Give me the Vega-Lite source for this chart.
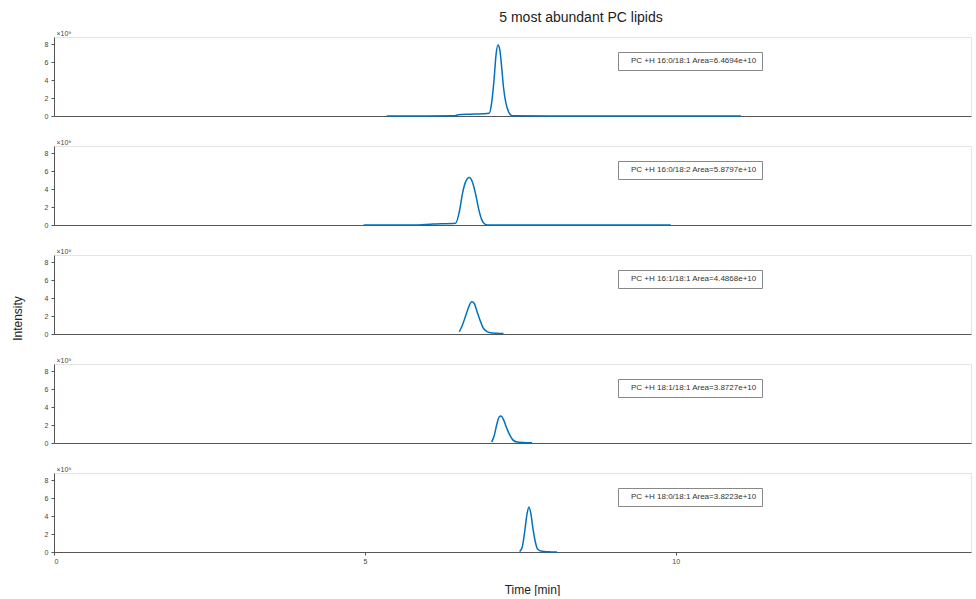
{
  "$schema": "https://vega.github.io/schema/vega-lite/v6.json",
  "padding": {"left": 10, "top": 10, "right": 0, "bottom": 0},
  "background": "white",
  "title": {"text": "5 most abundant PC lipids", "fontSize": 14, "fontWeight": "normal", "font": "Liberation Sans", "color": "#222222", "anchor": "middle", "dx": 90},
  "bounds": "flush",
  "spacing": 30,
  "resolve": {"scale": {"color": "independent"}, "legend": {"color": "independent"}},
  "config": {
    "font": "Liberation Sans",
    "view": {"stroke": "#e4e4e4", "strokeWidth": 1},
    "axis": {"domainColor": "#555555", "labelColor": "#444444", "labelFontSize": 7, "tickColor": "#555555", "grid": false},
    "legend": {"orient": "none", "legendX": 564, "legendY": 15, "title": null, "labelFontSize": 8, "labelColor": "#333333", "symbolSize": 0, "symbolStrokeWidth": 0, "symbolOpacity": 0, "labelOffset": 0, "strokeColor": "#888888", "fillColor": "white", "padding": 5, "columnPadding": 0},
    "line": {"strokeWidth": 1.5, "interpolate": "monotone"}
  },
  "datasets": {
    "chrom": [
      {"panel": 1, "lipid": "PC +H 16:0/18:1 Area=6.4694e+10", "time": 5.35, "intensity": 0},
      {"panel": 1, "lipid": "PC +H 16:0/18:1 Area=6.4694e+10", "time": 6.45, "intensity": 0.02},
      {"panel": 1, "lipid": "PC +H 16:0/18:1 Area=6.4694e+10", "time": 6.5, "intensity": 0.15},
      {"panel": 1, "lipid": "PC +H 16:0/18:1 Area=6.4694e+10", "time": 6.7, "intensity": 0.2},
      {"panel": 1, "lipid": "PC +H 16:0/18:1 Area=6.4694e+10", "time": 6.9, "intensity": 0.25},
      {"panel": 1, "lipid": "PC +H 16:0/18:1 Area=6.4694e+10", "time": 7.0, "intensity": 0.3},
      {"panel": 1, "lipid": "PC +H 16:0/18:1 Area=6.4694e+10", "time": 7.04, "intensity": 1.5},
      {"panel": 1, "lipid": "PC +H 16:0/18:1 Area=6.4694e+10", "time": 7.08, "intensity": 4.2},
      {"panel": 1, "lipid": "PC +H 16:0/18:1 Area=6.4694e+10", "time": 7.11, "intensity": 6.8},
      {"panel": 1, "lipid": "PC +H 16:0/18:1 Area=6.4694e+10", "time": 7.14, "intensity": 7.9},
      {"panel": 1, "lipid": "PC +H 16:0/18:1 Area=6.4694e+10", "time": 7.17, "intensity": 7.4},
      {"panel": 1, "lipid": "PC +H 16:0/18:1 Area=6.4694e+10", "time": 7.2, "intensity": 5.5},
      {"panel": 1, "lipid": "PC +H 16:0/18:1 Area=6.4694e+10", "time": 7.23, "intensity": 3.2},
      {"panel": 1, "lipid": "PC +H 16:0/18:1 Area=6.4694e+10", "time": 7.27, "intensity": 1.4},
      {"panel": 1, "lipid": "PC +H 16:0/18:1 Area=6.4694e+10", "time": 7.31, "intensity": 0.5},
      {"panel": 1, "lipid": "PC +H 16:0/18:1 Area=6.4694e+10", "time": 7.35, "intensity": 0.1},
      {"panel": 1, "lipid": "PC +H 16:0/18:1 Area=6.4694e+10", "time": 7.4, "intensity": 0.02},
      {"panel": 1, "lipid": "PC +H 16:0/18:1 Area=6.4694e+10", "time": 8.0, "intensity": 0},
      {"panel": 1, "lipid": "PC +H 16:0/18:1 Area=6.4694e+10", "time": 11.05, "intensity": 0},
      {"panel": 2, "lipid": "PC +H 16:0/18:2 Area=5.8797e+10", "time": 4.98, "intensity": 0},
      {"panel": 2, "lipid": "PC +H 16:0/18:2 Area=5.8797e+10", "time": 5.76, "intensity": 0},
      {"panel": 2, "lipid": "PC +H 16:0/18:2 Area=5.8797e+10", "time": 6.1, "intensity": 0.1},
      {"panel": 2, "lipid": "PC +H 16:0/18:2 Area=5.8797e+10", "time": 6.46, "intensity": 0.2},
      {"panel": 2, "lipid": "PC +H 16:0/18:2 Area=5.8797e+10", "time": 6.52, "intensity": 1.5},
      {"panel": 2, "lipid": "PC +H 16:0/18:2 Area=5.8797e+10", "time": 6.57, "intensity": 3.5},
      {"panel": 2, "lipid": "PC +H 16:0/18:2 Area=5.8797e+10", "time": 6.62, "intensity": 4.8},
      {"panel": 2, "lipid": "PC +H 16:0/18:2 Area=5.8797e+10", "time": 6.68, "intensity": 5.3},
      {"panel": 2, "lipid": "PC +H 16:0/18:2 Area=5.8797e+10", "time": 6.73, "intensity": 4.8},
      {"panel": 2, "lipid": "PC +H 16:0/18:2 Area=5.8797e+10", "time": 6.78, "intensity": 3.5},
      {"panel": 2, "lipid": "PC +H 16:0/18:2 Area=5.8797e+10", "time": 6.83, "intensity": 1.8},
      {"panel": 2, "lipid": "PC +H 16:0/18:2 Area=5.8797e+10", "time": 6.88, "intensity": 0.6},
      {"panel": 2, "lipid": "PC +H 16:0/18:2 Area=5.8797e+10", "time": 6.93, "intensity": 0.1},
      {"panel": 2, "lipid": "PC +H 16:0/18:2 Area=5.8797e+10", "time": 7.0, "intensity": 0},
      {"panel": 2, "lipid": "PC +H 16:0/18:2 Area=5.8797e+10", "time": 9.92, "intensity": 0},
      {"panel": 3, "lipid": "PC +H 16:1/18:1 Area=4.4868e+10", "time": 6.52, "intensity": 0.25},
      {"panel": 3, "lipid": "PC +H 16:1/18:1 Area=4.4868e+10", "time": 6.57, "intensity": 1.0},
      {"panel": 3, "lipid": "PC +H 16:1/18:1 Area=4.4868e+10", "time": 6.62, "intensity": 2.0},
      {"panel": 3, "lipid": "PC +H 16:1/18:1 Area=4.4868e+10", "time": 6.67, "intensity": 3.0},
      {"panel": 3, "lipid": "PC +H 16:1/18:1 Area=4.4868e+10", "time": 6.72, "intensity": 3.6},
      {"panel": 3, "lipid": "PC +H 16:1/18:1 Area=4.4868e+10", "time": 6.76, "intensity": 3.4},
      {"panel": 3, "lipid": "PC +H 16:1/18:1 Area=4.4868e+10", "time": 6.8, "intensity": 2.6},
      {"panel": 3, "lipid": "PC +H 16:1/18:1 Area=4.4868e+10", "time": 6.85, "intensity": 1.6},
      {"panel": 3, "lipid": "PC +H 16:1/18:1 Area=4.4868e+10", "time": 6.9, "intensity": 0.7},
      {"panel": 3, "lipid": "PC +H 16:1/18:1 Area=4.4868e+10", "time": 6.96, "intensity": 0.3},
      {"panel": 3, "lipid": "PC +H 16:1/18:1 Area=4.4868e+10", "time": 7.02, "intensity": 0.15},
      {"panel": 3, "lipid": "PC +H 16:1/18:1 Area=4.4868e+10", "time": 7.12, "intensity": 0.08},
      {"panel": 3, "lipid": "PC +H 16:1/18:1 Area=4.4868e+10", "time": 7.23, "intensity": 0.05},
      {"panel": 4, "lipid": "PC +H 18:1/18:1 Area=3.8727e+10", "time": 7.04, "intensity": 0.1},
      {"panel": 4, "lipid": "PC +H 18:1/18:1 Area=3.8727e+10", "time": 7.08, "intensity": 0.8},
      {"panel": 4, "lipid": "PC +H 18:1/18:1 Area=3.8727e+10", "time": 7.12, "intensity": 2.0},
      {"panel": 4, "lipid": "PC +H 18:1/18:1 Area=3.8727e+10", "time": 7.16, "intensity": 2.9},
      {"panel": 4, "lipid": "PC +H 18:1/18:1 Area=3.8727e+10", "time": 7.19, "intensity": 3.0},
      {"panel": 4, "lipid": "PC +H 18:1/18:1 Area=3.8727e+10", "time": 7.23, "intensity": 2.6},
      {"panel": 4, "lipid": "PC +H 18:1/18:1 Area=3.8727e+10", "time": 7.28, "intensity": 1.7},
      {"panel": 4, "lipid": "PC +H 18:1/18:1 Area=3.8727e+10", "time": 7.33, "intensity": 0.9},
      {"panel": 4, "lipid": "PC +H 18:1/18:1 Area=3.8727e+10", "time": 7.38, "intensity": 0.35},
      {"panel": 4, "lipid": "PC +H 18:1/18:1 Area=3.8727e+10", "time": 7.45, "intensity": 0.1},
      {"panel": 4, "lipid": "PC +H 18:1/18:1 Area=3.8727e+10", "time": 7.55, "intensity": 0.05},
      {"panel": 4, "lipid": "PC +H 18:1/18:1 Area=3.8727e+10", "time": 7.69, "intensity": 0.02},
      {"panel": 5, "lipid": "PC +H 18:0/18:1 Area=3.8223e+10", "time": 7.49, "intensity": 0.05},
      {"panel": 5, "lipid": "PC +H 18:0/18:1 Area=3.8223e+10", "time": 7.53, "intensity": 0.5},
      {"panel": 5, "lipid": "PC +H 18:0/18:1 Area=3.8223e+10", "time": 7.57, "intensity": 2.2},
      {"panel": 5, "lipid": "PC +H 18:0/18:1 Area=3.8223e+10", "time": 7.61, "intensity": 4.3},
      {"panel": 5, "lipid": "PC +H 18:0/18:1 Area=3.8223e+10", "time": 7.64, "intensity": 5.0},
      {"panel": 5, "lipid": "PC +H 18:0/18:1 Area=3.8223e+10", "time": 7.67, "intensity": 4.3},
      {"panel": 5, "lipid": "PC +H 18:0/18:1 Area=3.8223e+10", "time": 7.7, "intensity": 2.8},
      {"panel": 5, "lipid": "PC +H 18:0/18:1 Area=3.8223e+10", "time": 7.74, "intensity": 1.2},
      {"panel": 5, "lipid": "PC +H 18:0/18:1 Area=3.8223e+10", "time": 7.78, "intensity": 0.3},
      {"panel": 5, "lipid": "PC +H 18:0/18:1 Area=3.8223e+10", "time": 7.85, "intensity": 0.08},
      {"panel": 5, "lipid": "PC +H 18:0/18:1 Area=3.8223e+10", "time": 7.95, "intensity": 0.03},
      {"panel": 5, "lipid": "PC +H 18:0/18:1 Area=3.8223e+10", "time": 8.09, "intensity": 0}
    ]
  },
  "vconcat": [
    {
      "width": 917, "height": 79,
      "data": {"name": "chrom"},
      "transform": [{"filter": "datum.panel == 1"}],
      "mark": {"type": "line"},
      "encoding": {
        "x": {"field": "time", "type": "quantitative", "scale": {"domain": [0, 14.75], "nice": false}, "axis": {"labels": false, "ticks": false, "title": null}},
        "y": {"field": "intensity", "type": "quantitative", "scale": {"domain": [0, 8.8], "nice": false}, "axis": {"values": [0, 2, 4, 6, 8], "tickSize": 3, "labelPadding": 3, "title": "×10⁹", "titleAngle": 0, "titleAlign": "left", "titleBaseline": "bottom", "titleX": 2, "titleY": -1, "titleFontSize": 7, "titleFontWeight": "normal", "titleColor": "#444444"}},
        "color": {"field": "lipid", "type": "nominal", "scale": {"range": ["#0072BD"]}}
      }
    },
    {
      "width": 917, "height": 79,
      "data": {"name": "chrom"},
      "transform": [{"filter": "datum.panel == 2"}],
      "mark": {"type": "line"},
      "encoding": {
        "x": {"field": "time", "type": "quantitative", "scale": {"domain": [0, 14.75], "nice": false}, "axis": {"labels": false, "ticks": false, "title": null}},
        "y": {"field": "intensity", "type": "quantitative", "scale": {"domain": [0, 8.8], "nice": false}, "axis": {"values": [0, 2, 4, 6, 8], "tickSize": 3, "labelPadding": 3, "title": "×10⁹", "titleAngle": 0, "titleAlign": "left", "titleBaseline": "bottom", "titleX": 2, "titleY": -1, "titleFontSize": 7, "titleFontWeight": "normal", "titleColor": "#444444"}},
        "color": {"field": "lipid", "type": "nominal", "scale": {"range": ["#0072BD"]}}
      }
    },
    {
      "width": 917, "height": 79,
      "data": {"name": "chrom"},
      "transform": [{"filter": "datum.panel == 3"}],
      "layer": [
        {
          "mark": {"type": "line"},
          "encoding": {
            "x": {"field": "time", "type": "quantitative", "scale": {"domain": [0, 14.75], "nice": false}, "axis": {"labels": false, "ticks": false, "title": null}},
            "y": {"field": "intensity", "type": "quantitative", "scale": {"domain": [0, 8.8], "nice": false}, "axis": {"values": [0, 2, 4, 6, 8], "tickSize": 3, "labelPadding": 3, "title": "×10⁹", "titleAngle": 0, "titleAlign": "left", "titleBaseline": "bottom", "titleX": 2, "titleY": -1, "titleFontSize": 7, "titleFontWeight": "normal", "titleColor": "#444444"}},
            "color": {"field": "lipid", "type": "nominal", "scale": {"range": ["#0072BD"]}}
          }
        },
        {
          "mark": {"type": "line", "opacity": 0},
          "encoding": {
            "x": {"field": "time", "type": "quantitative", "scale": {"domain": [0, 14.75], "nice": false}},
            "y": {"field": "intensity", "type": "quantitative", "scale": {"domain": [0, 8.8], "nice": false}, "axis": {"orient": "left", "labels": false, "ticks": false, "domain": false, "grid": false, "title": "Intensity", "titleFontSize": 12, "titleFontWeight": "normal", "titleColor": "#222222", "titleX": -37, "titleY": 63, "titleAlign": "center", "titleBaseline": "middle", "offset": 0}}
          }
        }
      ],
      "resolve": {"scale": {"y": "independent"}}
    },
    {
      "width": 917, "height": 79,
      "data": {"name": "chrom"},
      "transform": [{"filter": "datum.panel == 4"}],
      "mark": {"type": "line"},
      "encoding": {
        "x": {"field": "time", "type": "quantitative", "scale": {"domain": [0, 14.75], "nice": false}, "axis": {"labels": false, "ticks": false, "title": null}},
        "y": {"field": "intensity", "type": "quantitative", "scale": {"domain": [0, 8.8], "nice": false}, "axis": {"values": [0, 2, 4, 6, 8], "tickSize": 3, "labelPadding": 3, "title": "×10⁹", "titleAngle": 0, "titleAlign": "left", "titleBaseline": "bottom", "titleX": 2, "titleY": -1, "titleFontSize": 7, "titleFontWeight": "normal", "titleColor": "#444444"}},
        "color": {"field": "lipid", "type": "nominal", "scale": {"range": ["#0072BD"]}}
      }
    },
    {
      "width": 917, "height": 79,
      "data": {"name": "chrom"},
      "transform": [{"filter": "datum.panel == 5"}],
      "mark": {"type": "line"},
      "encoding": {
        "x": {"field": "time", "type": "quantitative", "scale": {"domain": [0, 14.75], "nice": false}, "axis": {"values": [0, 5, 10], "tickSize": 3, "labelPadding": 2, "title": "Time [min]", "titleFontSize": 12, "titleFontWeight": "normal", "titleColor": "#222222", "titleX": 478, "titleY": 37, "titleAlign": "center", "titleBaseline": "middle"}},
        "y": {"field": "intensity", "type": "quantitative", "scale": {"domain": [0, 8.8], "nice": false}, "axis": {"values": [0, 2, 4, 6, 8], "tickSize": 3, "labelPadding": 3, "title": "×10⁹", "titleAngle": 0, "titleAlign": "left", "titleBaseline": "bottom", "titleX": 2, "titleY": -1, "titleFontSize": 7, "titleFontWeight": "normal", "titleColor": "#444444"}},
        "color": {"field": "lipid", "type": "nominal", "scale": {"range": ["#0072BD"]}}
      }
    }
  ]
}
